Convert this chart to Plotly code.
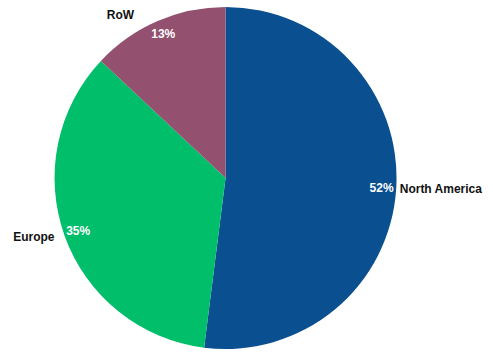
import plotly.graph_objects as go

regions = ["North America", "Europe", "RoW"]
shares = [52, 35, 13]
colors = ["#0a4f8f", "#00be6a", "#93506f"]

font_family = "Liberation Sans, Arial, sans-serif"
domain = dict(x=[0.106, 0.809], y=[0.0, 1.0])
clear = ["rgba(0,0,0,0)"] * len(regions)
nbsp = "\u00a0"

common = dict(
    labels=regions,
    values=shares,
    sort=False,
    direction="clockwise",
    rotation=0,
    domain=domain,
    showlegend=False,
    hoverinfo="skip",
)

fig = go.Figure()

# Filled slices
fig.add_trace(go.Pie(
    marker=dict(colors=colors, line=dict(width=0)),
    textinfo="none",
    **common,
))

# Transparent outer ring so the percentages sit near the rim
fig.add_trace(go.Pie(
    hole=0.83,
    marker=dict(colors=clear, line=dict(width=0)),
    texttemplate="<b>%{percent:.0%}</b>",
    textposition="inside",
    insidetextorientation="horizontal",
    textfont=dict(family=font_family, size=12, color="white"),
    **common,
))

# Transparent overlay carrying the region names outside the slices;
# trailing spaces push the left-hand names a little further out
fig.add_trace(go.Pie(
    marker=dict(colors=clear, line=dict(width=0)),
    texttemplate=[
        "<b>%{label}</b>",
        "<b>%{label}</b>" + nbsp * 2,
        "<b>%{label}</b>" + nbsp * 6,
    ],
    textposition="outside",
    textfont=dict(family=font_family, size=12, color="#111111"),
    **common,
))

fig.update_layout(
    width=493,
    height=354,
    margin=dict(l=0, r=0, t=7, b=0),
    paper_bgcolor="white",
    plot_bgcolor="white",
)

fig.write_html("out.html")
